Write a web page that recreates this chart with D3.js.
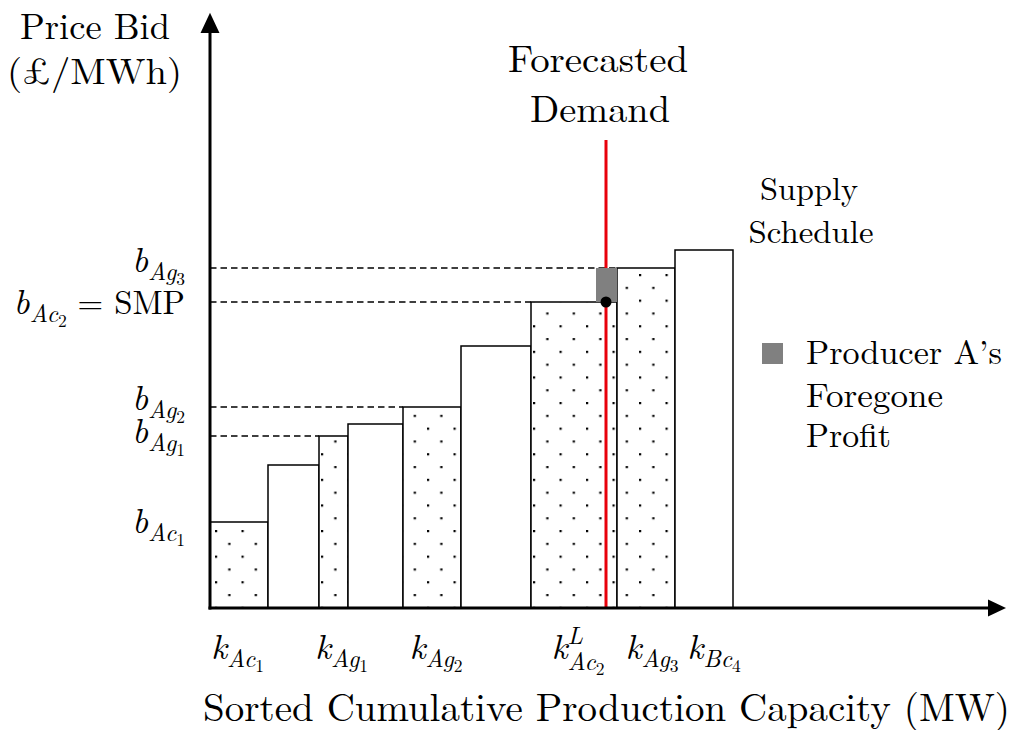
<!DOCTYPE html>
<html><head><meta charset="utf-8">
<script src="https://cdn.jsdelivr.net/npm/d3@7"></script>
<style>body{margin:0;background:#fff} svg{display:block}</style>
</head><body><svg id="c" width="1015" height="730"></svg>
<script>
// ---------------- data ----------------
const unitIds     = ["Ac1", "O1", "Ag1", "O2", "Ag2", "O3", "Ac2", "Ag3", "Bc4"];
const capacities  = [58, 51, 29, 55, 58, 70, 86, 58, 58];      // MW (sorted supply stack)
const bids        = [86, 143, 172, 184, 201, 262, 306, 340, 358]; // £/MWh
const isProducerA = [true, false, true, false, true, false, true, true, false];
const kLabels = [
  {base: "k", sub: "Ac", subsub: "1"}, null,
  {base: "k", sub: "Ag", subsub: "1"}, null,
  {base: "k", sub: "Ag", subsub: "2"}, null,
  {base: "k", sup: "L", sub: "Ac", subsub: "2"},
  {base: "k", sub: "Ag", subsub: "3"},
  {base: "k", sub: "Bc", subsub: "4"}
];
const bLabels = [
  {base: "b", sub: "Ac", subsub: "1"}, null,
  {base: "b", sub: "Ag", subsub: "1"}, null,
  {base: "b", sub: "Ag", subsub: "2"}, null,
  {base: "b", sub: "Ac", subsub: "2", tail: " = SMP"},
  {base: "b", sub: "Ag", subsub: "3"}, null
];
const dashedGuide = [false, false, true, false, true, false, true, true, false];
const forecastDemand = 396;          // MW
const demandLineTop = 468;           // £/MWh (extent of the demand marker)
const foregoneCapacity = [386, 407]; // MW
const smpIndex = 6, foregoneTopIndex = 7;
const yTitle = ["Price Bid", "(£/MWh)"];
const xTitle = "Sorted Cumulative Production Capacity (MW)";
const demandTitle = ["Forecasted", "Demand"];
const supplyTitle = ["Supply", "Schedule"];
const legendLines = ["Producer A\u2019s", "Foregone", "Profit"];

// ---------------- layout ----------------
const FONT = '"Latin Modern Roman", "Liberation Serif", serif';
const svg = d3.select("#c").attr("fill", "#000");
const x = d3.scaleLinear().domain([0, 800]).range([210, 1010]);
const y = d3.scaleLinear().domain([0, 600]).range([608, 8]);
const edges = [0, ...d3.cumsum(capacities)];

function txt(parent) { return parent.append("text").style("font-family", FONT); }

// dotted hatch
const defs = svg.append("defs");
const pat = defs.append("pattern").attr("id", "dots").attr("patternUnits", "userSpaceOnUse")
  .attr("x", 215).attr("y", 274).attr("width", 26.5).attr("height", 25.6);
pat.append("rect").attr("width", 26.5).attr("height", 25.6).attr("fill", "#fff");
pat.append("rect").attr("x", 0).attr("y", 0).attr("width", 2.2).attr("height", 2.2).attr("fill", "#000");
pat.append("rect").attr("x", 13.25).attr("y", 12.8).attr("width", 2.2).attr("height", 2.2).attr("fill", "#000");

// dashed guides
svg.append("g").selectAll("line").data(d3.range(bids.length).filter(i => dashedGuide[i])).join("line")
  .attr("x1", x(0)).attr("x2", i => x(edges[i])).attr("y1", i => y(bids[i])).attr("y2", i => y(bids[i]))
  .attr("stroke", "#000").attr("stroke-width", 1.5).attr("stroke-dasharray", "6.5,4");

// bars
svg.append("g").selectAll("rect").data(bids).join("rect")
  .attr("x", (d, i) => x(edges[i])).attr("width", (d, i) => x(edges[i + 1]) - x(edges[i]))
  .attr("y", d => y(d)).attr("height", d => y(0) - y(d))
  .attr("fill", (d, i) => isProducerA[i] ? "url(#dots)" : "#fff")
  .attr("stroke", "#000").attr("stroke-width", 1.5);

// demand line
svg.append("line").attr("x1", x(forecastDemand)).attr("x2", x(forecastDemand))
  .attr("y1", y(demandLineTop)).attr("y2", y(0)).attr("stroke", "#e8000b").attr("stroke-width", 3);

// foregone profit
svg.append("rect").attr("x", x(foregoneCapacity[0])).attr("width", x(foregoneCapacity[1]) - x(foregoneCapacity[0]))
  .attr("y", y(bids[foregoneTopIndex])).attr("height", y(bids[smpIndex]) - y(bids[foregoneTopIndex]))
  .attr("fill", "#808080");

// SMP point
svg.append("circle").attr("cx", x(forecastDemand)).attr("cy", y(bids[smpIndex])).attr("r", 5.5).attr("fill", "#000");

// axes
svg.append("line").attr("x1", x(0)).attr("x2", x(0)).attr("y1", y(0) + 1.5).attr("y2", y(575))
  .attr("stroke", "#000").attr("stroke-width", 3);
svg.append("path").attr("d", `M${x(0)},${y(595.3)} L${x(0) - 9.5},${y(575)} L${x(0) + 9.5},${y(575)} Z`).attr("fill", "#000");
svg.append("line").attr("x1", x(0) - 1.5).attr("x2", x(778)).attr("y1", y(0)).attr("y2", y(0))
  .attr("stroke", "#000").attr("stroke-width", 3);
svg.append("path").attr("d", `M${x(796)},${y(0)} L${x(778)},${y(0) - 8.5} L${x(778)},${y(0) + 8.5} Z`).attr("fill", "#000");

// math label helper
function mathLabel(parent, spec, fs) {
  const g = parent.append("g");
  const segs = [{t: spec.base, size: fs, dy: 0, it: true}];
  const hasSup = !!spec.sup;
  const subShift = hasSup ? fs * 0.32 : fs * 0.22;
  if (spec.sup) segs.push({t: spec.sup, size: fs * 0.7, dy: -fs * 0.43, it: true});
  if (spec.sub) segs.push({t: spec.sub, size: fs * 0.7, dy: subShift, it: true, stack: hasSup});
  if (spec.subsub) segs.push({t: spec.subsub, size: fs * 0.5, dy: subShift + fs * 0.15, it: false});
  if (spec.tail) segs.push({t: spec.tail, size: fs * 0.94, dy: 0, it: false});
  let cx = 0, prevStart = 0;
  segs.forEach(s => {
    const start = s.stack ? prevStart : cx;
    const t = txt(g).attr("x", start).attr("y", s.dy).style("font-size", s.size + "px")
      .style("font-style", s.it ? "italic" : "normal").style("white-space", "pre").text(s.t);
    const w = t.node().getComputedTextLength();
    prevStart = start; cx = Math.max(cx, start + w);
  });
  return {g, width: cx};
}

// y tick labels (right aligned)
const yLabNudge = {0: 11, 2: 7, 4: 3, 6: 12, 7: 4};
const yl = svg.append("g");
bLabels.forEach((spec, i) => {
  if (!spec) return;
  const m = mathLabel(yl, spec, 35);
  m.g.attr("transform", `translate(${185 - m.width},${y(bids[i]) + yLabNudge[i]})`);
});

// x tick labels (centred under bars)
const xLabNudge = {0: -1.5, 2: 8, 4: 4, 6: 4, 7: 6, 8: 10};
const xl = svg.append("g");
kLabels.forEach((spec, i) => {
  if (!spec) return;
  const m = mathLabel(xl, spec, 35);
  const c = (x(edges[i]) + x(edges[i + 1])) / 2 + xLabNudge[i];
  m.g.attr("transform", `translate(${c - m.width / 2},659)`);
});

// titles
function fit(sel, w) { return sel.attr("textLength", w).attr("lengthAdjust", "spacingAndGlyphs"); }
function title(t, px, py, fs, w, anchor) {
  return fit(txt(svg).attr("x", px).attr("y", py).style("font-size", fs + "px")
    .attr("text-anchor", anchor || "start").text(t), w);
}
title(yTitle[0], 20, 39, 36.5, 150);
title(yTitle[1], 7, 84, 36.5, 175);
title(xTitle, 203, 721, 39, 807);
title(demandTitle[0], 598, 72, 38, 180, "middle");
title(demandTitle[1], 600, 122, 38, 140, "middle");
title(supplyTitle[0], 809, 200, 32, 98, "middle");
title(supplyTitle[1], 811, 243, 32, 125, "middle");

// legend
svg.append("rect").attr("x", 762).attr("y", 343).attr("width", 21).attr("height", 21).attr("fill", "#808080");
const legW = [196, 137, 85], legY = [364, 407, 447];
legendLines.forEach((t, i) => title(t, 806, legY[i], 34, legW[i]));
</script></body></html>
